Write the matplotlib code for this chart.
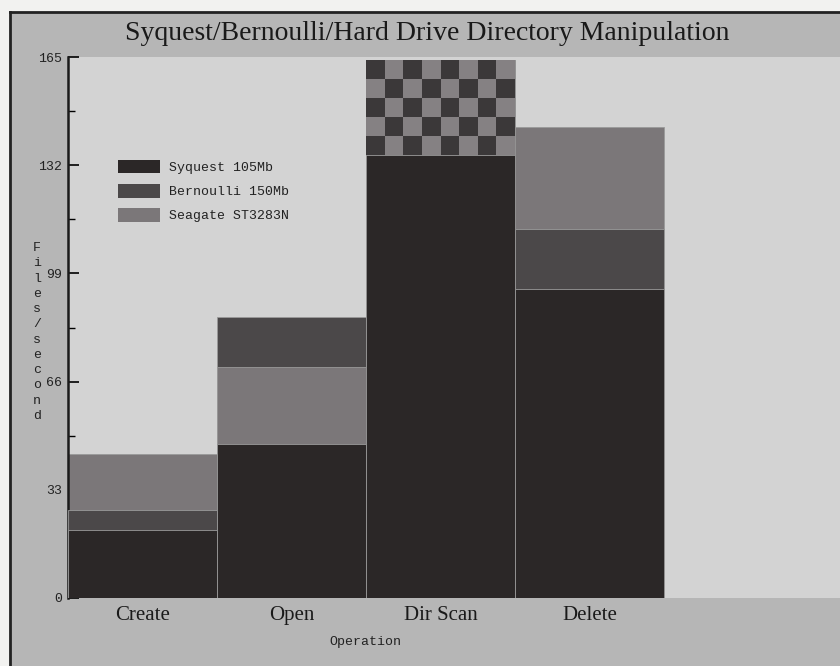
import numpy as np
import matplotlib
matplotlib.use("Agg")
import matplotlib.pyplot as plt
from matplotlib.patches import Rectangle
from matplotlib.lines import Line2D

# ---- data ----
operations = ["Create", "Open", "Dir Scan", "Delete"]
series_names = ["Syquest 105Mb", "Bernoulli 150Mb", "Seagate ST3283N"]
syquest = [20.7, 47.0, 135.2, 94.2]
bernoulli = [26.8, 85.7, 164.0, 112.5]
seagate = [43.9, 70.4, 164.0, 143.6]
yticks = [0, 33, 66, 99, 132, 165]

colors = ["#2b2727", "#4b4849", "#7b7779"]
checker_colors = ["#3b3839", "#858183"]

W, H = 840, 666
fig = plt.figure(figsize=(W / 100, H / 100), dpi=100)
fig.patch.set_facecolor("#b6b6b6")

# white strip + border (scan frame)
fig.patches.append(Rectangle((0, 0), 10 / W, 1, transform=fig.transFigure,
                             facecolor="#f2f2f0", edgecolor="none", zorder=-5))
fig.patches.append(Rectangle((0, 1 - 12 / H), 1, 12 / H, transform=fig.transFigure,
                             facecolor="#f2f2f0", edgecolor="none", zorder=-5))
fig.lines.append(Line2D([10 / W, 10 / W], [0, 1 - 12 / H], transform=fig.transFigure,
                        color="#222222", lw=2))
fig.lines.append(Line2D([10 / W, 1], [1 - 12 / H, 1 - 12 / H], transform=fig.transFigure,
                        color="#222222", lw=2))

left, top, bottom = 68, 57, 598
ax = fig.add_axes([left / W, (H - bottom) / H, (W - left) / W, (bottom - top) / H])
ax.set_facecolor("#d3d3d3")

n = len(operations)
x = np.arange(n) + 0.5
data = [syquest, bernoulli, seagate]

for i in range(n):
    vals = [d[i] for d in data]
    order = np.argsort(vals)[::-1]
    for rank, s in enumerate(order):
        ax.bar(x[i], vals[s], width=1.0, color=colors[s], edgecolor="#9a9a9a",
               linewidth=0.6, zorder=2 + rank)
    # equal Bernoulli/Seagate values -> checker pattern
    if bernoulli[i] == seagate[i]:
        base = syquest[i]
        xe = np.linspace(x[i] - 0.5, x[i] + 0.5, 9)
        ye = np.linspace(base, bernoulli[i], 6)
        cc = (np.indices((5, 8)).sum(axis=0) % 2)[::-1]
        ax.pcolormesh(xe, ye, cc, cmap=matplotlib.colors.ListedColormap(
            [checker_colors[0], checker_colors[1]]), zorder=6, shading="flat")

ax.set_xlim(0, (W - left) / 149.0)
ax.set_ylim(0, 165)
ax.set_yticks(yticks)
ax.set_yticks([v + 16.5 for v in yticks[:-1]], minor=True)
ax.set_yticklabels([str(v) for v in yticks], family="Liberation Mono", fontsize=9.5,
                   color="#222222")
ax.tick_params(axis="y", which="major", direction="in", length=8, width=1.2, pad=4)
ax.tick_params(axis="y", which="minor", direction="in", length=5, width=1)
ax.set_xticks(x)
ax.set_xticklabels(operations, family="Liberation Serif", fontsize=15,
                   color="#1a1a1a")
ax.tick_params(axis="x", length=0, pad=6)
for side in ["top", "right", "bottom"]:
    ax.spines[side].set_visible(False)
ax.spines["left"].set_linewidth(1.8)
ax.spines["left"].set_color("#1a1a1a")

ax.set_xlabel("Operation", family="Liberation Mono", fontsize=9.5, color="#222222")
ax.xaxis.set_label_coords((365 - left) / (W - left), -(636 - bottom) / (bottom - top))
fig.text(37 / W, 1 - 332 / H, "\n".join("Files/second"), family="Liberation Mono",
         fontsize=9.5, color="#222222", ha="center", va="center", linespacing=1.36)

fig.text(427 / W, 1 - 33 / H, "Syquest/Bernoulli/Hard Drive Directory Manipulation",
         family="Liberation Serif", fontsize=20, color="#1a1a1a",
         ha="center", va="center")

handles = [Rectangle((0, 0), 1, 1, facecolor=c, edgecolor="none") for c in colors]
leg = ax.legend(handles, series_names, loc="upper left",
                bbox_to_anchor=(38 / (W - left), 1 - 91 / (bottom - top)),
                frameon=False, prop={"family": "Liberation Mono", "size": 9.5},
                handlelength=3.2, handleheight=1.2, labelspacing=0.75,
                handletextpad=0.7)
for t in leg.get_texts():
    t.set_color("#222222")

fig.savefig("out.png", dpi=100, facecolor=fig.get_facecolor())
